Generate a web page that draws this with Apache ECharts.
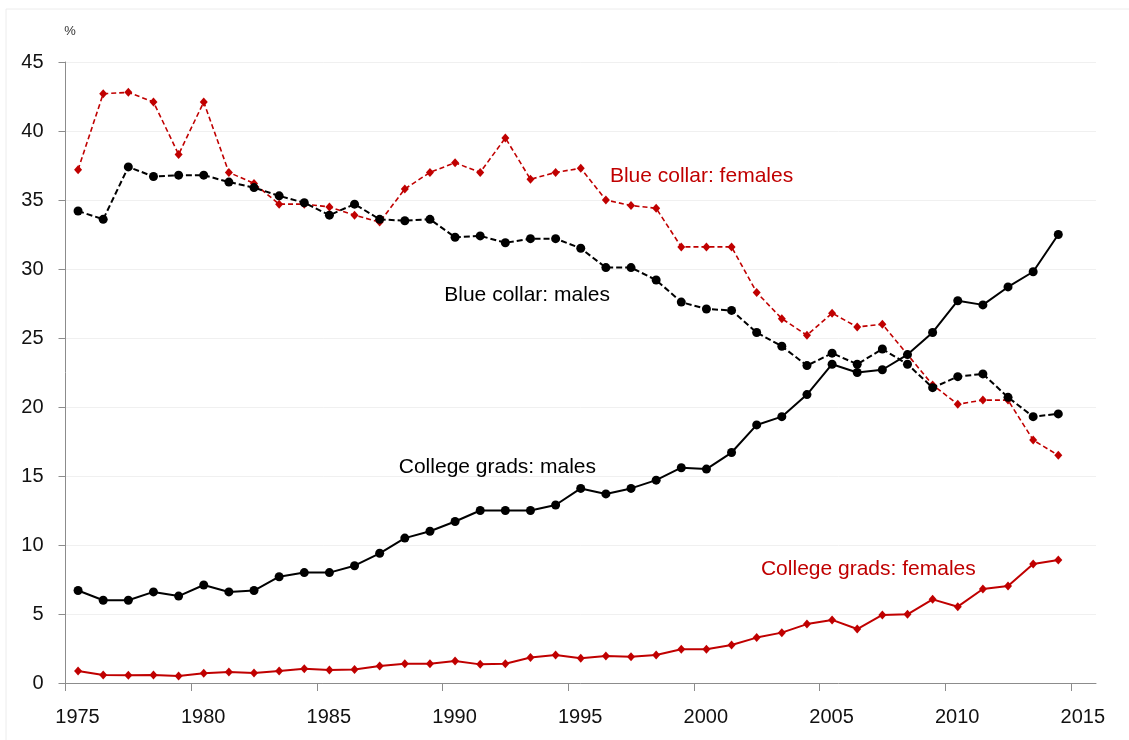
<!DOCTYPE html>
<html>
<head>
<meta charset="utf-8">
<script src="https://cdn.jsdelivr.net/npm/echarts@6/dist/echarts.min.js"></script>
<style>html,body{margin:0;padding:0;background:#fff}#c{width:1129px;height:740px}</style>
</head>
<body>
<div id="c"></div>
<script>
const years = [];
for (let y = 1975; y <= 2014; y++) years.push(y);
const tickYears = [1975,1980,1985,1990,1995,2000,2005,2010,2015];

const blueCollarMales = [34.2,33.6,37.4,36.7,36.8,36.8,36.3,35.9,35.3,34.8,33.9,34.7,33.6,33.5,33.6,
  32.3,32.4,31.9,32.2,32.2,31.5,30.1,30.1,29.2,27.6,27.1,27.0,25.4,24.4,23.0,23.9,23.1,24.2,23.1,21.4,22.2,22.4,20.7,19.3,19.5];
const blueCollarFemales = [37.2,42.7,42.8,42.1,38.3,42.1,37.0,36.2,34.7,34.7,34.5,33.9,33.4,35.8,37.0,
  37.7,37.0,39.5,36.5,37.0,37.3,35.0,34.6,34.4,31.6,31.6,31.6,28.3,26.4,25.2,26.8,25.8,26.0,23.8,21.6,20.2,20.5,20.5,17.6,16.5];
const collegeMales = [6.7,6.0,6.0,6.6,6.3,7.1,6.6,6.7,7.7,8.0,8.0,8.5,9.4,10.5,11.0,
  11.7,12.5,12.5,12.5,12.9,14.1,13.7,14.1,14.7,15.6,15.5,16.7,18.7,19.3,20.9,23.1,22.5,22.7,23.8,25.4,27.7,27.4,28.7,29.8,32.5];
const collegeFemales = [0.87,0.58,0.56,0.58,0.51,0.70,0.80,0.72,0.87,1.04,0.94,0.97,1.23,1.40,1.40,
  1.59,1.35,1.40,1.85,2.03,1.79,1.96,1.91,2.03,2.44,2.44,2.75,3.29,3.65,4.27,4.57,3.91,4.93,4.98,6.06,5.53,6.81,7.03,8.62,8.91];

const labels = [
  {text:'Blue collar: females', x:1996.64, y:36.69, color:'#C00000', series:1},
  {text:'Blue collar: males', x:1990.05, y:28.12, color:'#000000', series:0},
  {text:'College grads: males', x:1988.24, y:15.67, color:'#000000', series:2},
  {text:'College grads: females', x:2002.65, y:8.26, color:'#C00000', series:3}
];

const RED = '#C00000', BLACK = '#000000';
const FONT = '"Liberation Sans", Arial, sans-serif';

function pts(arr){ return arr.map((v,i)=>[years[i]+0.5, v]); }
function mp(idx){
  const l = labels.filter(o=>o.series===idx);
  return {
    symbol:'circle', symbolSize:1, silent:true,
    itemStyle:{color:'rgba(0,0,0,0)'},
    label:{show:true, position:'right', distance:0, formatter:'{b}', fontFamily:FONT, fontSize:21},
    data: l.map(o=>({name:o.text, coord:[o.x,o.y], label:{color:o.color}}))
  };
}

const chart = echarts.init(document.getElementById('c'), null, {renderer:'canvas'});
chart.setOption({
  animation:false,
  backgroundColor:'#fff',
  textStyle:{fontFamily:FONT},
  graphic:[{type:'rect', shape:{x:6, y:9, width:1140, height:760}, style:{fill:'none', stroke:'#ececec', lineWidth:1}, silent:true}],
  grid:{left:65.5, right:33, top:62, bottom:57},
  xAxis:{
    type:'value', min:1975, max:2016,
    axisLine:{show:true, lineStyle:{color:'#8c8c8c', width:1}},
    axisTick:{show:true, inside:false, length:8, lineStyle:{color:'#8c8c8c'}, customValues:tickYears},
    axisLabel:{customValues:tickYears, formatter:function(v){return String(Math.round(v));},
      fontSize:20, color:'#111', margin:24, padding:[0,0,0,24], fontFamily:FONT},
    splitLine:{show:false}
  },
  yAxis:{
    type:'value', min:0, max:45, interval:5,
    name:'%', nameLocation:'end', nameGap:24,
    nameTextStyle:{fontSize:13, color:'#333', padding:[0,0,0,9], fontFamily:FONT},
    axisLine:{show:true, lineStyle:{color:'#8c8c8c', width:1}},
    axisTick:{show:true, inside:false, length:7, lineStyle:{color:'#8c8c8c'}},
    axisLabel:{fontSize:20, color:'#111', margin:22, fontFamily:FONT},
    splitLine:{show:true, lineStyle:{color:'#f0f0f0', width:1}}
  },
  series:[
    {name:'Blue collar: males', type:'line', data:pts(blueCollarMales), symbol:'circle', symbolSize:9,
     itemStyle:{color:BLACK}, lineStyle:{color:BLACK, width:2, type:[6,3]}, markPoint:mp(0), z:3},
    {name:'Blue collar: females', type:'line', data:pts(blueCollarFemales), symbol:'diamond', symbolSize:[8,9],
     itemStyle:{color:RED}, lineStyle:{color:RED, width:1.6, type:[5,3]}, markPoint:mp(1), z:2},
    {name:'College grads: males', type:'line', data:pts(collegeMales), symbol:'circle', symbolSize:9,
     itemStyle:{color:BLACK}, lineStyle:{color:BLACK, width:2}, markPoint:mp(2), z:3},
    {name:'College grads: females', type:'line', data:pts(collegeFemales), symbol:'diamond', symbolSize:[8,9],
     itemStyle:{color:RED}, lineStyle:{color:RED, width:2}, markPoint:mp(3), z:2}
  ]
});
</script>
</body>
</html>
